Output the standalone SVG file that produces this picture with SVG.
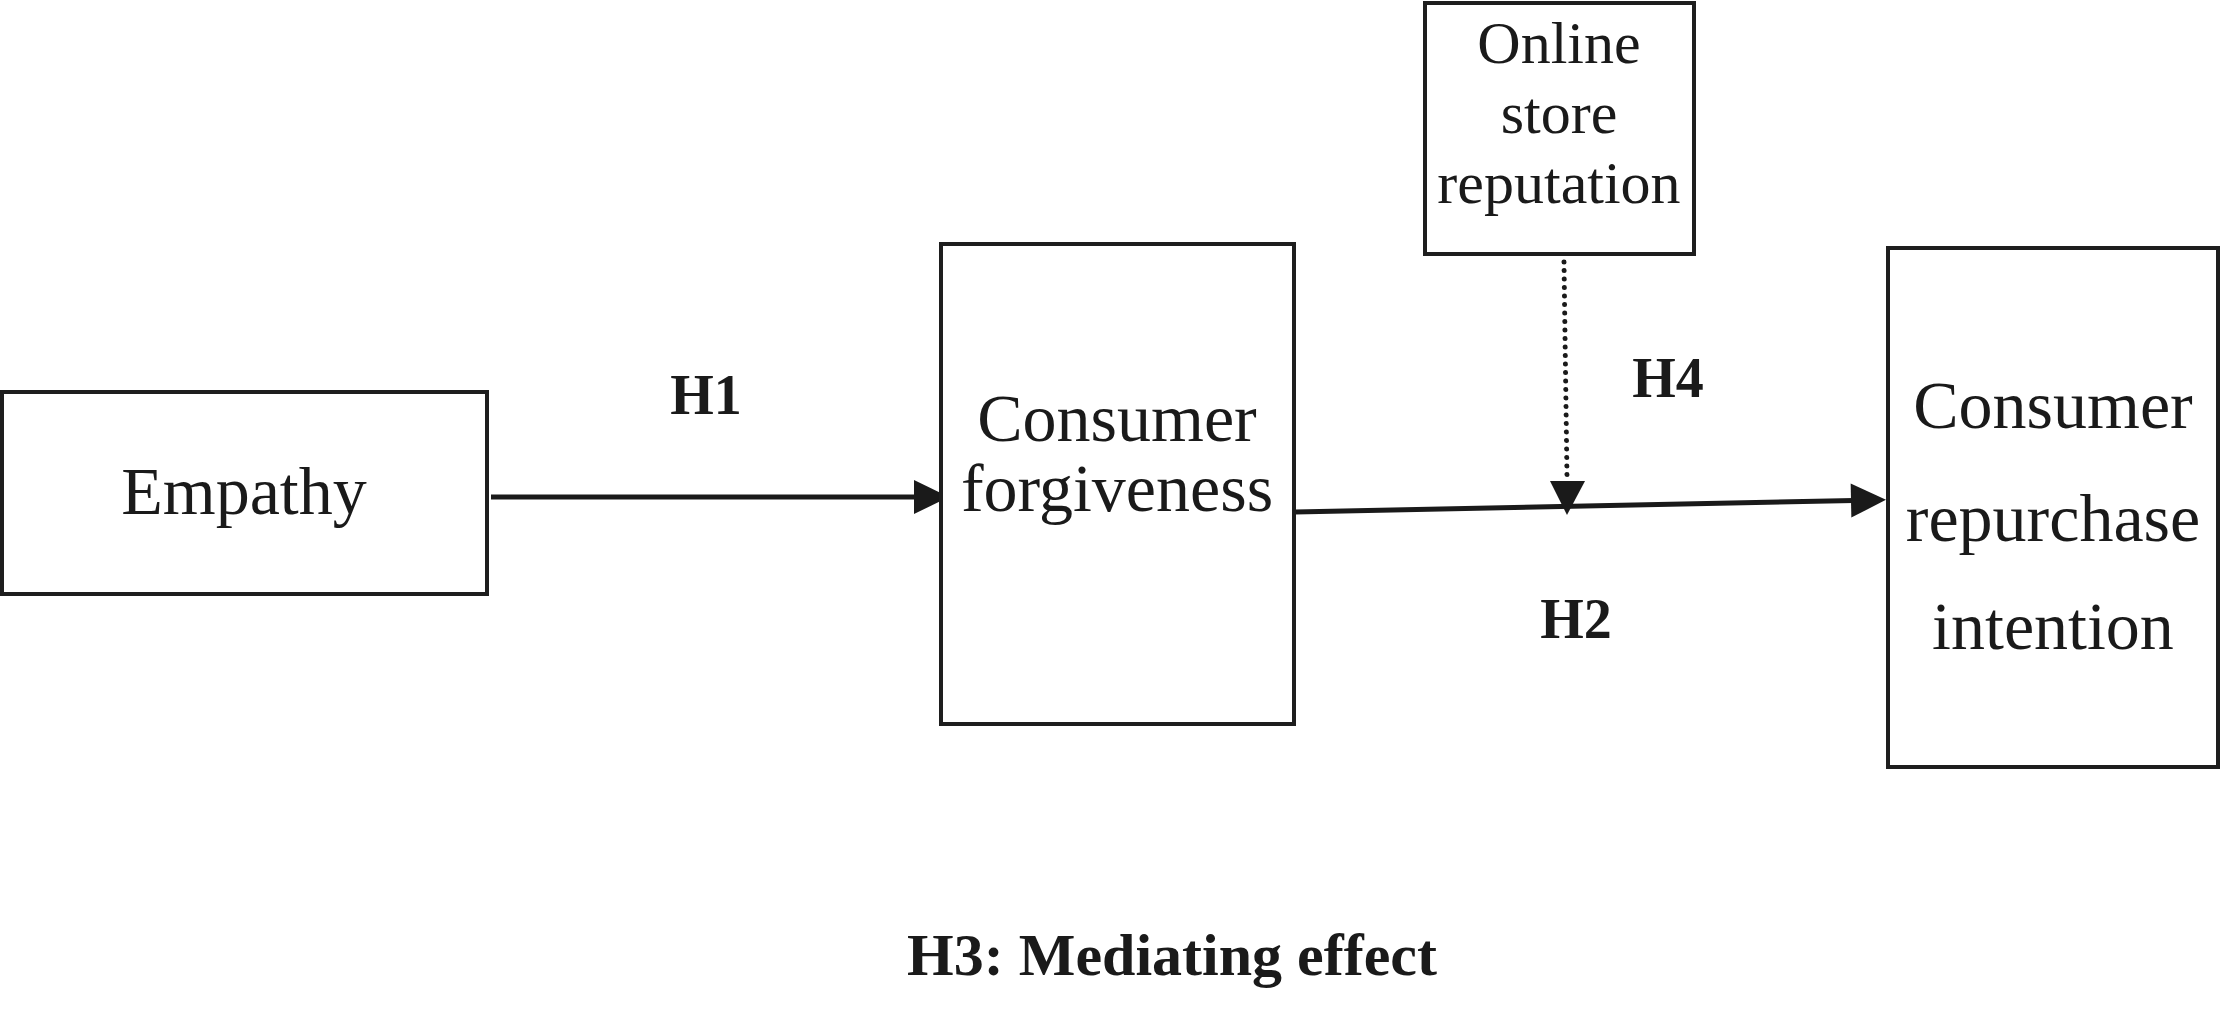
<svg xmlns="http://www.w3.org/2000/svg" width="2221" height="1034" viewBox="0 0 2221 1034">
<style>
.box{fill:#fff;stroke:#1e1e1e;stroke-width:4}
.lbl{font-family:"Liberation Serif","Times New Roman",serif;font-size:68px;fill:#1a1a1a;text-anchor:middle}
.sm{font-size:60px}
.h{font-family:"Liberation Serif","Times New Roman",serif;font-weight:bold;fill:#1a1a1a;text-anchor:middle}
.edge{stroke:#1a1a1a;stroke-width:5;fill:none}
.dot{stroke:#1a1a1a;stroke-width:5;fill:none;stroke-linecap:round;stroke-dasharray:0.1 8.4}
</style>
<defs>
<marker id="ah" markerUnits="userSpaceOnUse" markerWidth="40" markerHeight="40" refX="28" refY="17" orient="auto" overflow="visible">
<path d="M0,0 L35,17 L0,34 z" fill="#1a1a1a"/>
</marker>
</defs>
<rect width="2221" height="1034" fill="#fff"/>
<g id="connectors">
<line class="edge" x1="491" y1="497" x2="942" y2="497" marker-end="url(#ah)"/>
<line class="edge" x1="1295" y1="512" x2="1879" y2="500" marker-end="url(#ah)"/>
<line class="dot" x1="1564" y1="262" x2="1567" y2="478"/>
<path d="M1550,481 L1585,481 L1567,515 z" fill="#1a1a1a"/>
</g>
<g id="empathy">
<rect class="box" x="2" y="392" width="485" height="202"/>
<text class="lbl" x="244" y="514">Empathy</text>
</g>
<g id="forgiveness">
<rect class="box" x="941" y="244" width="353" height="480"/>
<text class="lbl" x="1117" y="441" font-size="67">Consumer</text>
<text class="lbl" x="1117" y="511" font-size="67">forgiveness</text>
</g>
<g id="reputation">
<rect class="box" x="1425" y="3" width="269" height="251"/>
<text class="lbl sm" x="1559" y="63">Online</text>
<text class="lbl sm" x="1559" y="133">store</text>
<text class="lbl sm" x="1559" y="203">reputation</text>
</g>
<g id="repurchase">
<rect class="box" x="1888" y="248" width="330" height="519"/>
<text class="lbl" x="2053" y="428">Consumer</text>
<text class="lbl" x="2053" y="541">repurchase</text>
<text class="lbl" x="2053" y="649">intention</text>
</g>
<g id="labels">
<text class="h" x="706" y="414" font-size="56">H1</text>
<text class="h" x="1668" y="397" font-size="56">H4</text>
<text class="h" x="1576" y="638" font-size="56">H2</text>
<text class="h" x="1172" y="975" font-size="60">H3: Mediating effect</text>
</g>
</svg>
